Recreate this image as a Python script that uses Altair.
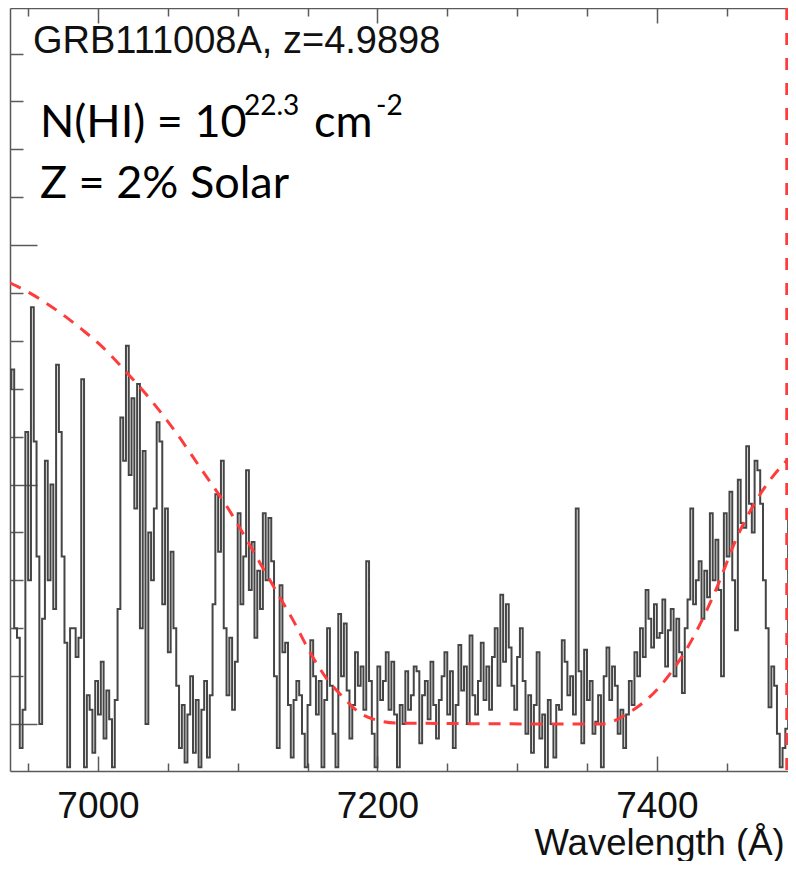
import altair as alt
import pandas as pd

# ---------------- data ----------------
wave_start = 6937.0
bin_width = 2.0
flux = [
    7.0, 7.4, 2.0, 1.8, -0.5, 0.3, 6.1, 3.0, 8.7, 5.9,
    3.5, 0.0, 2.2, 5.5, 3.0, 5.0, 2.4, 7.5, 6.1, 3.5,
    1.7, -0.9, 2.0, 2.0, 1.4, 1.8, 7.2, -0.9, 0.6, 0.3,
    -0.6, 0.9, 0.2, 1.3, -0.3, 0.7, 0.1, -0.9, 0.5, 2.4,
    6.4, 5.5, 7.9, 5.2, 6.8, 4.5, 7.1, 2.0, 5.7, 0.0,
    4.0, 3.0, 4.5, 6.3, 5.9, 2.5, 4.5, 1.5, 3.6, 2.0,
    0.8, -0.5, 0.4, -0.8, 0.2, 1.0, -0.6, 0.5, -0.9, 0.3,
    0.9, -0.7, 0.6, 2.5, 4.8, 3.6, 5.5, 2.0, 0.6, 1.8,
    0.3, 1.3, 4.4, 2.5, 3.5, 5.3, 2.8, 3.8, 1.8, 3.2,
    2.4, 4.4, 3.0, 4.3, 3.4, 1.0, -0.5, 2.9, 1.5, 1.7,
    0.4, -0.7, 0.5, 0.9, 0.6, -0.2, -0.9, 0.4, 1.75, 1.0,
    0.2, 0.9, -0.9, 0.5, 2.0, 0.8, -0.2, -0.9, 2.3, 1.0,
    2.1, 0.7, -0.3, 0.4, 1.5, 0.8, 1.2, 0.3, 3.4, 0.9,
    -0.2, -0.9, 1.2, 0.5, 0.9, 1.5, 0.3, 1.3, 0.2, -0.9,
    0.4, 0.0, 1.1, 0.3, 0.6, 1.2, 1.1, -0.4, 0.6, 0.9,
    0.1, 1.3, 0.4, -0.3, 0.5, 1.0, 1.5, 0.2, 1.1, -0.5,
    0.4, 1.65, 0.7, 1.2, 0.0, 1.85, 0.6, 0.2, 0.9, 1.7,
    0.5, 1.2, 0.3, 1.4, 2.0, 0.8, 2.7, 1.3, 2.5, 1.6,
    0.8, 0.3, 1.4, 2.0, 0.9, -0.2, 0.6, -0.6, 0.4, 1.5,
    -0.3, 0.2, -0.9, 0.5, 0.0, -0.7, 0.4, 0.3, 1.75, 1.3,
    0.6, 1.0, 0.2, 4.5, 1.1, -0.4, 1.55, 0.5, 0.9, -0.2,
    0.05, 0.6, -0.9, 1.0, 1.6, 0.5, 1.2, 0.8, -0.2, 0.3,
    -0.5, 0.2, 0.9, 0.4, 1.5, 1.0, 2.0, 1.4, 2.8, 2.2,
    1.6, 2.5, 1.8, 1.9, 2.6, 1.2, 1.96, 2.4, 1.0, 2.2,
    1.5, 0.65, 2.0, 2.6, 4.5, 2.5, 3.0, 3.4, 2.2, 3.2,
    2.65, 4.4, 3.0, 3.85, 2.8, 1.0, 4.4, 3.5, 4.85, 3.0,
    1.96, 5.1, 4.2, 4.1, 5.8, 4.6, 4.0, 5.5, 5.3, 4.6,
    3.0, 2.0, 0.35, 1.2, 0.8, -0.2, -0.9, -0.5, -0.1, 4.4,
    5.2, 5.0,
]
wave = [wave_start + bin_width * i for i in range(len(flux))]

model_wave = [6937.0, 6953.5, 6972.8, 6989.3, 7001.4, 7021.5, 7039.4, 7056.5,
              7073.0, 7092.3, 7116.0, 7128.1, 7139.6, 7151.7, 7163.9, 7175.4,
              7187.5, 7199.7, 7214.0, 7359.3, 7380.8, 7404.4, 7428.8, 7443.1,
              7457.4, 7476.0, 7493.2]
model_flux = [9.21, 8.96, 8.59, 8.22, 7.92, 7.31, 6.71, 6.06,
              5.36, 4.54, 3.36, 2.75, 2.17, 1.50, 0.94, 0.56,
              0.23, 0.08, 0.02, 0.0, 0.25, 0.86, 1.96, 2.86,
              3.9, 4.89, 5.51]

limit_wave = [7493.2]

x_label_ticks = [7000, 7200, 7400]
x_minor_ticks = [6950, 7000, 7050, 7100, 7150, 7200, 7250, 7300, 7350, 7400, 7450]
y_minor_ticks = list(range(0, 15))

title_text = "GRB111008A, z=4.9898"
nhi_parts = ["N(HI) = 10", "22.3", "cm", "-2"]
metal_text = "Z = 2% Solar"
x_title = "Wavelength (Å)"

# ---------------- layout ----------------
W, H = 778, 763
x_domain = [6937.0, 7493.9]
y_domain = [-0.98, 14.95]
AX = "#5a5a5a"

spec_df = pd.DataFrame({"wave": wave, "flux": flux})
model_df = pd.DataFrame({"wave": model_wave, "flux": model_flux})
lim_df = pd.DataFrame({"wave": limit_wave})

xs = alt.Scale(domain=x_domain, nice=False, zero=False)
ys = alt.Scale(domain=y_domain, nice=False, zero=False)

spectrum = alt.Chart(spec_df).mark_line(
    interpolate="step", color="#454545", strokeWidth=2, clip=True
).encode(
    x=alt.X("wave:Q", scale=xs, axis=alt.Axis(
        orient="bottom", values=x_label_ticks, format="d", ticks=False, grid=False,
        domain=True, domainColor=AX, domainWidth=1.5,
        labelFont="Liberation Sans", labelFontSize=37, labelColor="#111",
        labelPadding=17, labelFlush=False, labelOverlap=False,
        title=x_title, titleFont="Liberation Sans", titleFontSize=36.5,
        titleFontWeight="normal", titleColor="#111", titleAlign="left",
        titleBaseline="alphabetic", titleX=524, titleY=83)),
    y=alt.Y("flux:Q", scale=ys, axis=alt.Axis(
        orient="left", ticks=False, labels=False, grid=False, domain=True,
        domainColor=AX, domainWidth=1.5, title=None)),
)

model = alt.Chart(model_df).mark_line(
    interpolate="monotone", color="#ff3c3c", strokeWidth=3,
    strokeDash=[12, 9], clip=True
).encode(
    x=alt.X("wave:Q", scale=xs, axis=alt.Axis(
        orient="bottom", offset=-H, values=x_minor_ticks, labels=False,
        grid=False, domain=True, domainColor=AX, domainWidth=1.5,
        tickColor=AX, tickWidth=1.5,
        tickSize={"condition": {"test": "datum.value % 200 === 0", "value": 15}, "value": 8},
        title=None)),
    y=alt.Y("flux:Q", scale=ys, axis=alt.Axis(
        orient="right", offset=-W, values=y_minor_ticks, labels=False,
        grid=False, domain=False, tickColor=AX, tickWidth=1.5,
        tickSize={"condition": {"test": "datum.value % 5 === 0", "value": 27}, "value": 13},
        title=None)),
)

limit = alt.Chart(lim_df).mark_rule(
    color="#ff3c3c", strokeWidth=3.5, strokeDash=[12, 13]
).encode(
    x=alt.X("wave:Q", scale=xs, axis=alt.Axis(
        orient="top", offset=-H, values=x_minor_ticks, labels=False,
        grid=False, domain=False, tickColor=AX, tickWidth=1.5,
        tickSize={"condition": {"test": "datum.value % 200 === 0", "value": 15}, "value": 8},
        title=None)),
)

def txt(s, x, y, font, size, color="#111"):
    return alt.Chart(pd.DataFrame({"t": [s]})).mark_text(
        align="left", baseline="alphabetic", font=font, fontSize=size, color=color
    ).encode(text="t:N", x=alt.value(x), y=alt.value(y))

cal = "Lato"
texts = [
    txt(title_text, 23, 45, "Liberation Sans", 38),
    txt(nhi_parts[0], 30, 129, cal, 45, "black"),
    txt(nhi_parts[1], 234, 107, cal, 28, "black"),
    txt(nhi_parts[2], 304, 129, cal, 45, "black"),
    txt(nhi_parts[3], 366, 107, cal, 28, "black"),
    txt(metal_text, 30, 190, cal, 45, "black"),
]

chart = alt.layer(spectrum, model, limit, *texts).resolve_axis(
    x="independent", y="independent"
).properties(
    width=W, height=H,
    padding={"left": 2, "top": 0, "right": 0, "bottom": 90},
    autosize=alt.AutoSizeParams(type="none"),
    background="white",
).configure_view(stroke=None)

chart.save("out.html", embed_options={"renderer": "svg", "actions": False})
